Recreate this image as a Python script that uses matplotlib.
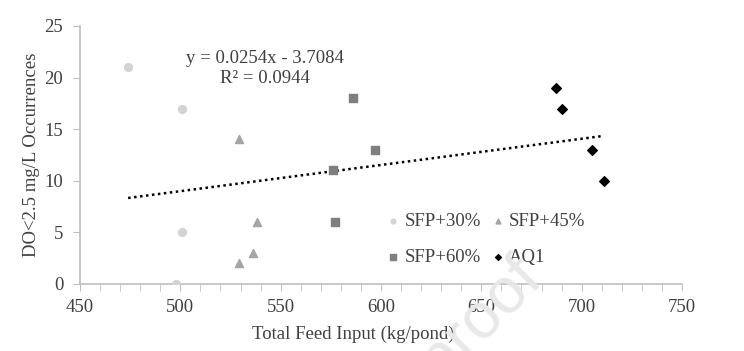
import matplotlib.pyplot as plt
import numpy as np

plt.rcParams['font.family'] = ['Liberation Serif', 'DejaVu Serif']

# data
sfp30_x = [474, 501, 501, 498]
sfp30_y = [21, 17, 5, 0]
sfp45_x = [529, 538, 536, 529]
sfp45_y = [14, 6, 3, 2]
sfp60_x = [586, 597, 576, 577]
sfp60_y = [18, 13, 11, 6]
aq1_x = [687, 690, 705, 711]
aq1_y = [19, 17, 13, 10]

slope = 0.0254
intercept = -3.7084
r2 = 0.0944

fig = plt.figure(figsize=(7.44, 3.51), dpi=100)
ax = fig.add_axes([0.1075, 0.191, 0.8092, 0.735])

h30 = ax.scatter(sfp30_x, sfp30_y, marker='o', s=32, color='#d3d3d3', label='SFP+30%', zorder=3)
h45 = ax.scatter(sfp45_x, sfp45_y, marker='^', s=34, color='#a5a5a5', label='SFP+45%', zorder=3)
h60 = ax.scatter(sfp60_x, sfp60_y, marker='s', s=40, color='#7f7f7f', label='SFP+60%', zorder=3)
haq = ax.scatter(aq1_x, aq1_y, marker='D', s=24, color='black', label='AQ1', zorder=3)

all_x = np.array(sfp30_x + sfp45_x + sfp60_x + aq1_x)
xs = np.array([all_x.min(), all_x.max()])
ax.plot(xs, slope * xs + intercept, color='black', lw=1.8, linestyle=(0, (1, 1.4)), zorder=2)

ax.text(542, 20.9, "y = %.4fx - %.4f\nR² = %.4f" % (slope, -intercept, r2), ha='center', va='center',
        fontsize=13.5, color='#404040', linespacing=1.2)

ax.set_xlim(450, 750)
ax.set_ylim(0, 25)
ax.set_xticks(range(450, 751, 50))
ax.set_xticks(range(450, 751, 10), minor=True)
ax.set_yticks(range(0, 26, 5))

for side in ['top', 'right']:
    ax.spines[side].set_visible(False)
for side in ['left', 'bottom']:
    ax.spines[side].set_color('#bfbfbf')
    ax.spines[side].set_linewidth(1.2)
ax.tick_params(axis='both', which='both', color='#bfbfbf', labelsize=13.5, labelcolor='#404040')
ax.tick_params(axis='x', which='major', length=5, pad=6)
ax.tick_params(axis='x', which='minor', length=5)
ax.tick_params(axis='y', length=5, pad=7)

ax.set_xlabel("Total Feed Input (kg/pond)", fontsize=13.5, color='#404040')
ax.xaxis.set_label_coords(0.4535, -0.160)
ax.set_ylabel("DO<2.5 mg/L Occurrences", fontsize=13.5, color='#404040', labelpad=3)

# ncol=2 fills column by column, so order handles to get rows 30/45 and 60/AQ1
ax.legend([h30, h60, h45, haq], ['SFP+30%', 'SFP+60%', 'SFP+45%', 'AQ1'],
          ncol=2, frameon=False, loc='center', bbox_to_anchor=(0.672, 0.172), fontsize=13.5,
          labelcolor='#404040', handletextpad=0.1, columnspacing=0.4, labelspacing=1.0,
          handlelength=1.0, markerscale=0.6)

# faint watermark on top, mostly running off the bottom edge
fig.text(0.7325, 0.197, "Journal Pre-proof", fontsize=46, color='#e8e8e8', rotation=45,
         rotation_mode='anchor', ha='right', va='baseline', zorder=10,
         family='Liberation Sans')

fig.savefig("out.png", dpi=100)
